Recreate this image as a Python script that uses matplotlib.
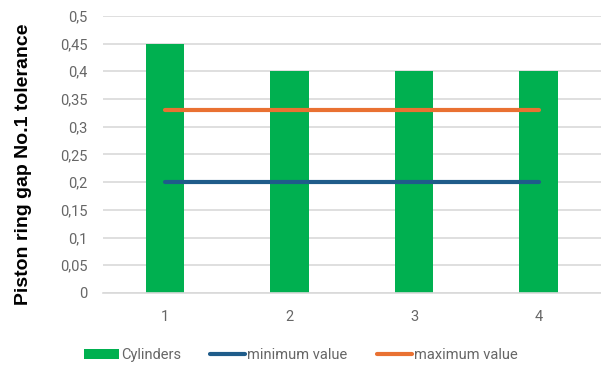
import matplotlib
matplotlib.use("Agg")
import matplotlib.pyplot as plt
import numpy as np

categories = ["1", "2", "3", "4"]
cylinders = [0.45, 0.40, 0.40, 0.40]
minimum_value = [0.20, 0.20, 0.20, 0.20]
maximum_value = [0.33, 0.33, 0.33, 0.33]
y_ticks = [0, 0.05, 0.10, 0.15, 0.20, 0.25, 0.30, 0.35, 0.40, 0.45, 0.50]
y_tick_labels = ["0", "0,05", "0,1", "0,15", "0,2", "0,25", "0,3", "0,35", "0,4", "0,45", "0,5"]

plt.rcParams["font.family"] = ["Roboto", "DejaVu Sans"]

fig = plt.figure(figsize=(6.01, 3.69), dpi=100)
ax = fig.add_axes([0.171, 0.206, 0.829, 0.751])

x = np.arange(1, len(categories) + 1)
bars = ax.bar(x, cylinders, width=0.31, color="#00B050", label="Cylinders", zorder=2)
l_min, = ax.plot(x, minimum_value, color="#1F5C8A", lw=3, solid_capstyle="round",
                 label="minimum value", zorder=3)
l_max, = ax.plot(x, maximum_value, color="#E97132", lw=3, solid_capstyle="round",
                 label="maximum value", zorder=3)

ax.set_xlim(0.5, 4.5)
ax.set_ylim(0, 0.5)
ax.set_yticks(y_ticks)
ax.set_yticklabels(y_tick_labels)
ax.set_xticks(x)
ax.set_xticklabels(categories)
ax.yaxis.grid(True, color="#D9D9D9", lw=1.2, zorder=0)
ax.set_axisbelow(True)
for s in ax.spines.values():
    s.set_visible(False)
ax.spines["bottom"].set_visible(True)
ax.spines["bottom"].set_color("#D9D9D9")
ax.spines["bottom"].set_linewidth(1.2)
ax.tick_params(axis="both", length=0, colors="#666666", labelsize=10.5)
ax.tick_params(axis="y", pad=11)
ax.tick_params(axis="x", pad=12)

ax.set_ylabel("Piston ring gap No.1 tolerance", fontsize=14, fontweight="bold",
              family=["Liberation Sans", "DejaVu Sans"], color="#000000")
ax.yaxis.set_label_coords(-0.142, 0.465)

leg = fig.legend(handles=[bars, l_min, l_max], loc="center",
                 bbox_to_anchor=(0.5, 1 - 355 / 369), ncol=3, frameon=False,
                 fontsize=10.5, handlelength=2.4, handletextpad=0.15, columnspacing=2.0,
                 labelcolor="#666666")

fig.savefig("out.png", dpi=100)
